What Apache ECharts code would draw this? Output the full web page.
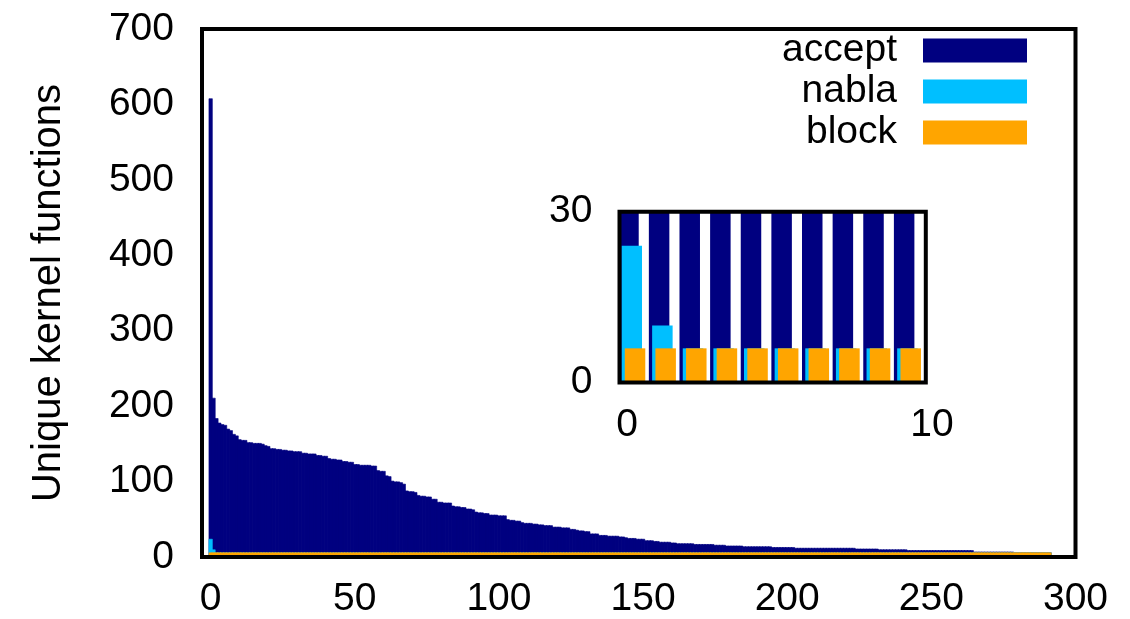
<!DOCTYPE html>
<html>
<head>
<meta charset="utf-8">
<script src="https://cdn.jsdelivr.net/npm/echarts@6/dist/echarts.min.js"></script>
<style>
html,body{margin:0;padding:0;background:#fff;}
#chart{width:1130px;height:619px;}
</style>
</head>
<body>
<div id="chart"></div>
<script>
const seriesNames = ['accept', 'nabla', 'block'];
const accept = [
608, 211, 184, 178, 176, 175, 170, 168, 163, 161,
156, 155, 155, 152, 152, 151, 151, 151, 150, 148,
147, 144, 144, 143, 143, 142, 142, 141, 141, 140,
140, 140, 138, 138, 137, 137, 137, 135, 135, 134,
134, 131, 130, 130, 129, 129, 127, 127, 126, 126,
123, 123, 122, 122, 122, 122, 121, 121, 115, 114,
114, 108, 107, 101, 100, 100, 99, 97, 88, 87,
87, 86, 82, 81, 81, 80, 80, 77, 77, 73,
73, 72, 72, 72, 68, 67, 67, 66, 66, 64,
64, 63, 60, 59, 59, 58, 58, 56, 56, 56,
55, 55, 55, 50, 49, 49, 48, 48, 46, 45,
45, 45, 44, 44, 43, 43, 42, 42, 42, 40,
40, 40, 39, 39, 39, 37, 37, 36, 35, 35,
34, 34, 31, 31, 31, 29, 29, 29, 28, 28,
28, 28, 27, 27, 26, 25, 25, 25, 24, 24,
24, 22, 22, 22, 21, 21, 20, 20, 20, 20,
19, 19, 18, 18, 18, 18, 18, 18, 17, 17,
17, 17, 17, 17, 17, 16, 16, 16, 16, 15,
15, 15, 15, 15, 15, 14, 14, 14, 14, 14,
14, 14, 14, 14, 14, 13, 13, 13, 13, 13,
13, 13, 13, 12, 12, 12, 12, 12, 12, 12,
12, 12, 12, 12, 12, 12, 12, 12, 12, 12,
12, 12, 12, 12, 11, 11, 11, 11, 11, 11,
11, 11, 10, 10, 10, 10, 10, 10, 10, 10,
10, 10, 9, 9, 9, 9, 9, 9, 9, 9,
9, 9, 9, 9, 9, 9, 9, 9, 9, 9,
9, 9, 9, 9, 9, 7, 7, 7, 7, 7,
7, 7, 7, 7, 7, 7, 7, 7, 7, 6,
6, 6, 6, 6, 6, 6, 6, 6, 6, 6,
6, 6
];
const nabla = [
24, 10, 6, 6, 6, 6, 6, 6, 6, 6,
6, 6, 6, 6, 6, 6, 6, 6, 6, 6,
6, 6, 6, 6, 6, 6, 6, 6, 6, 6,
6, 6, 6, 6, 6, 6, 6, 6, 6, 6,
6, 6, 6, 6, 6, 6, 6, 6, 6, 6,
6, 6, 6, 6, 6, 6, 6, 6, 6, 6,
6, 6, 6, 6, 6, 6, 6, 6, 6, 6,
6, 6, 6, 6, 6, 6, 6, 6, 6, 6,
6, 6, 6, 6, 6, 6, 6, 6, 6, 6,
6, 6, 6, 6, 6, 6, 6, 6, 6, 6,
6, 6, 6, 6, 6, 6, 6, 6, 6, 6,
6, 6, 6, 6, 6, 6, 6, 6, 6, 6,
6, 6, 6, 6, 6, 6, 6, 6, 6, 6,
6, 6, 6, 6, 6, 6, 6, 6, 6, 6,
6, 6, 6, 6, 6, 6, 6, 6, 6, 6,
6, 6, 6, 6, 6, 6, 6, 6, 6, 6,
6, 6, 6, 6, 6, 6, 6, 6, 6, 6,
6, 6, 6, 6, 6, 6, 6, 6, 6, 6,
6, 6, 6, 6, 6, 6, 6, 6, 6, 6,
6, 6, 6, 6, 6, 6, 6, 6, 6, 6,
6, 6, 6, 6, 6, 6, 6, 6, 6, 6,
6, 6, 6, 6, 6, 6, 6, 6, 6, 6,
6, 6, 6, 6, 6, 6, 6, 6, 6, 6,
6, 6, 6, 6, 6, 6, 6, 6, 6, 6,
6, 6, 6, 6, 6, 6, 6, 6, 6, 6,
6, 6, 6, 6, 6, 6, 6, 6, 6, 6,
6, 6, 6, 6, 6, 6, 6, 6, 6, 6,
6, 6, 6, 6, 6, 6, 6, 6, 6, 6,
6, 6, 6, 6, 6, 6, 6, 6, 6, 6,
6, 6
];
const block = [
6, 6, 6, 6, 6, 6, 6, 6, 6, 6,
6, 6, 6, 6, 6, 6, 6, 6, 6, 6,
6, 6, 6, 6, 6, 6, 6, 6, 6, 6,
6, 6, 6, 6, 6, 6, 6, 6, 6, 6,
6, 6, 6, 6, 6, 6, 6, 6, 6, 6,
6, 6, 6, 6, 6, 6, 6, 6, 6, 6,
6, 6, 6, 6, 6, 6, 6, 6, 6, 6,
6, 6, 6, 6, 6, 6, 6, 6, 6, 6,
6, 6, 6, 6, 6, 6, 6, 6, 6, 6,
6, 6, 6, 6, 6, 6, 6, 6, 6, 6,
6, 6, 6, 6, 6, 6, 6, 6, 6, 6,
6, 6, 6, 6, 6, 6, 6, 6, 6, 6,
6, 6, 6, 6, 6, 6, 6, 6, 6, 6,
6, 6, 6, 6, 6, 6, 6, 6, 6, 6,
6, 6, 6, 6, 6, 6, 6, 6, 6, 6,
6, 6, 6, 6, 6, 6, 6, 6, 6, 6,
6, 6, 6, 6, 6, 6, 6, 6, 6, 6,
6, 6, 6, 6, 6, 6, 6, 6, 6, 6,
6, 6, 6, 6, 6, 6, 6, 6, 6, 6,
6, 6, 6, 6, 6, 6, 6, 6, 6, 6,
6, 6, 6, 6, 6, 6, 6, 6, 6, 6,
6, 6, 6, 6, 6, 6, 6, 6, 6, 6,
6, 6, 6, 6, 6, 6, 6, 6, 6, 6,
6, 6, 6, 6, 6, 6, 6, 6, 6, 6,
6, 6, 6, 6, 6, 6, 6, 6, 6, 6,
6, 6, 6, 6, 6, 6, 6, 6, 6, 6,
6, 6, 6, 6, 6, 6, 6, 6, 6, 6,
6, 6, 6, 6, 6, 6, 6, 6, 6, 6,
6, 6, 6, 6, 6, 6, 6, 6, 6, 6,
6, 6
];
const mainXTicks = [0, 50, 100, 150, 200, 250, 300];
const mainYTicks = [0, 100, 200, 300, 400, 500, 600, 700];
const insetXTicks = [0, 10];
const insetCount = 10;
const yTitle = 'Unique kernel functions';

const colors = { accept: '#000080', nabla: '#00bfff', block: '#ffa500' };
const FONT = 'Liberation Sans, Arial, Helvetica, sans-serif';
const FS = 39;
const values = { accept, nabla, block };

const chart = echarts.init(document.getElementById('chart'), null, { renderer: 'canvas' });

const series = [];
seriesNames.forEach(name => {
  series.push({
    name, type: 'bar', xAxisIndex: 0, yAxisIndex: 0,
    data: values[name].map((v, i) => [i, v]),
    barWidth: 4, barGap: '-100%',
    itemStyle: { color: colors[name], borderColor: colors[name], borderWidth: 0.6 },
    animation: false, clip: true
  });
});
seriesNames.forEach(name => {
  series.push({
    name, type: 'bar', xAxisIndex: 1, yAxisIndex: 1,
    data: values[name].slice(0, insetCount).map((v, i) => [i, v]),
    barWidth: 20.5, barGap: '-84%',
    itemStyle: { color: colors[name] },
    animation: false, clip: true
  });
});

const labelStyle = { fontSize: FS, fontFamily: FONT, color: '#000' };

chart.setOption({
  backgroundColor: '#fff',
  animation: false,
  grid: [
    { left: 202, top: 29, width: 873.5, height: 530.7, show: true, borderColor: '#000', borderWidth: 4, backgroundColor: 'transparent', z: 10 },
    { left: 619.5, top: 211.7, width: 306.3, height: 170.8, show: true, borderColor: '#000', borderWidth: 4, backgroundColor: 'transparent', z: 10 },
    { left: 627, top: 211.7, width: 305, height: 170.8, show: false }
  ],
  xAxis: [
    { type: 'value', gridIndex: 0, min: -3, max: 300,
      axisLine: { show: false }, axisTick: { show: false }, splitLine: { show: false },
      axisLabel: Object.assign({ customValues: mainXTicks, margin: 23 }, labelStyle) },
    { type: 'value', gridIndex: 1, min: -0.4, max: 9.6,
      axisLine: { show: false }, axisTick: { show: false }, splitLine: { show: false },
      axisLabel: { show: false } },
    { type: 'value', gridIndex: 2, min: 0, max: 10,
      axisLine: { show: false }, axisTick: { show: false }, splitLine: { show: false },
      axisLabel: Object.assign({ customValues: insetXTicks, margin: 23 }, labelStyle) }
  ],
  yAxis: [
    { type: 'value', gridIndex: 0, min: 0, max: 700,
      axisLine: { show: false }, axisTick: { show: false }, splitLine: { show: false },
      axisLabel: Object.assign({ customValues: mainYTicks, margin: 28 }, labelStyle),
      name: yTitle, nameLocation: 'middle', nameGap: 133,
      nameTextStyle: { fontSize: 40, fontFamily: FONT, color: '#000' } },
    { type: 'value', gridIndex: 1, min: 0, max: 30, interval: 30,
      axisLine: { show: false }, axisTick: { show: false }, splitLine: { show: false },
      axisLabel: Object.assign({ margin: 27 }, labelStyle) },
    { type: 'value', gridIndex: 2, min: 0, max: 30,
      show: false }
  ],
  legend: {
    data: seriesNames,
    orient: 'vertical', right: 98, top: 26, align: 'right',
    itemWidth: 102, itemHeight: 22, itemGap: 2, icon: 'rect',
    selectedMode: false,
    textStyle: { fontSize: FS, fontFamily: FONT, color: '#000', lineHeight: 38, padding: [0, 22, 0, 0] }
  },
  series
});
</script>
</body>
</html>
